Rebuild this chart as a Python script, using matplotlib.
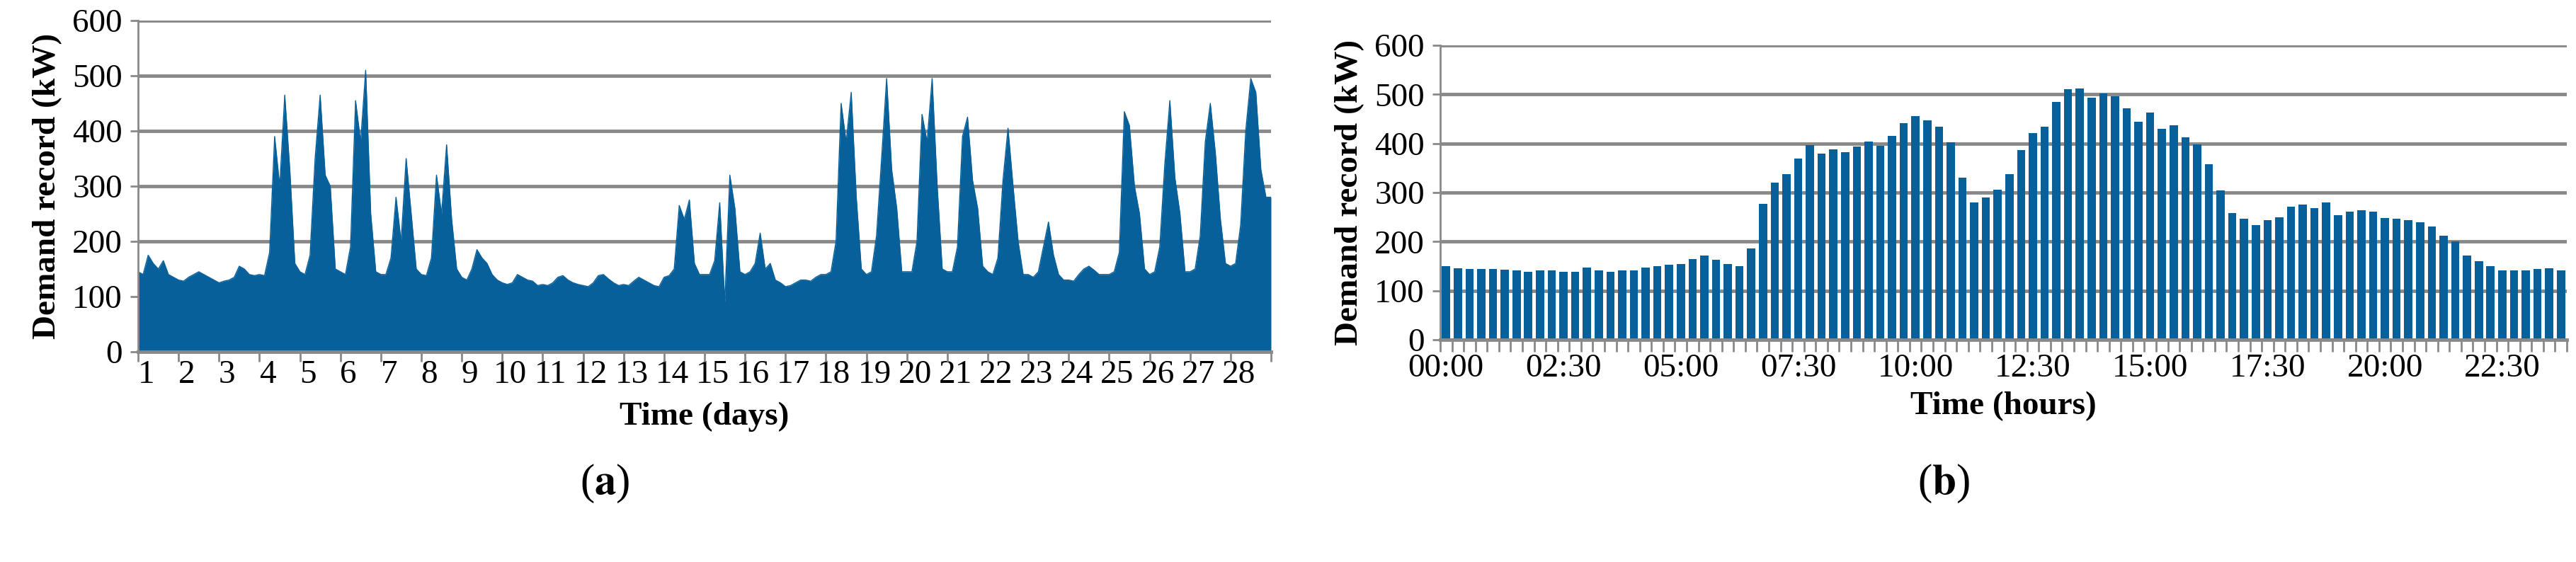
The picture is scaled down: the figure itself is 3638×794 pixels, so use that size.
import matplotlib
matplotlib.use("Agg")
import matplotlib.pyplot as plt
import numpy as np

plt.rcParams['font.family'] = ['Liberation Serif', 'DejaVu Serif']
plt.rcParams['mathtext.fontset'] = 'stix'

# Panel (a): 28 days, 8 readings per day (every 3 h)
days = list(range(1, 29))
day_profiles = [
    [145, 140, 175, 160, 150, 165, 140, 135],
    [130, 128, 135, 140, 145, 140, 135, 130],
    [125, 128, 130, 135, 155, 150, 140, 138],
    [140, 138, 180, 390, 300, 465, 330, 160],
    [145, 140, 175, 350, 465, 320, 300, 150],
    [145, 140, 190, 455, 380, 510, 250, 145],
    [140, 140, 170, 280, 200, 350, 250, 150],
    [140, 138, 170, 320, 250, 375, 240, 150],
    [135, 130, 150, 185, 170, 160, 140, 130],
    [125, 122, 125, 140, 135, 130, 128, 120],
    [122, 120, 125, 135, 138, 130, 125, 122],
    [120, 118, 125, 138, 140, 132, 125, 120],
    [122, 120, 128, 135, 130, 125, 120, 118],
    [135, 138, 150, 265, 240, 275, 160, 140],
    [140, 140, 165, 270, 90, 320, 260, 145],
    [140, 145, 160, 215, 150, 160, 130, 125],
    [118, 120, 125, 130, 130, 128, 135, 140],
    [140, 145, 200, 450, 380, 470, 280, 150],
    [140, 145, 210, 350, 495, 330, 260, 145],
    [145, 145, 200, 430, 380, 495, 300, 150],
    [145, 145, 190, 390, 425, 310, 260, 155],
    [145, 140, 170, 310, 405, 300, 200, 140],
    [140, 135, 145, 190, 235, 175, 140, 130],
    [130, 128, 140, 150, 155, 148, 140, 140],
    [140, 145, 180, 435, 410, 300, 250, 150],
    [140, 145, 190, 340, 455, 315, 250, 145],
    [145, 150, 210, 380, 450, 360, 240, 160],
    [155, 160, 230, 400, 495, 470, 330, 280],
]

# Panel (b): 96 quarter-hour readings of one day
hour_labels = ['00:00', '02:30', '05:00', '07:30', '10:00', '12:30', '15:00', '17:30', '20:00', '22:30']
demand_b = [150, 146, 144, 144, 144, 143, 141, 139, 141, 141, 139, 139, 147, 141, 138, 141,
            141, 147, 150, 153, 154, 164, 172, 163, 154, 150, 186, 277, 320, 338, 369, 397,
            379, 388, 382, 394, 404, 395, 415, 441, 456, 447, 434, 402, 330, 280, 290, 306,
            338, 387, 421, 434, 485, 511, 512, 493, 502, 496, 472, 444, 463, 430, 437, 413,
            398, 358, 304, 258, 247, 234, 244, 250, 271, 275, 268, 280, 254, 261, 264, 261,
            248, 247, 244, 239, 231, 212, 200, 172, 160, 150, 141, 141, 141, 144, 146, 141]

BLUE = '#08609a'
GRID = '#898989'
W, H = 3638, 794
fig = plt.figure(figsize=(W / 100, H / 100), dpi=100)

def style(ax):
    ax.set_ylim(0, 600)
    ax.set_yticks(range(0, 601, 100))
    ax.yaxis.grid(True, color=GRID, linewidth=3.5)
    ax.set_axisbelow(True)
    for s in ['top', 'right']:
        ax.spines[s].set_visible(False)
    ax.spines['left'].set_color(GRID)
    ax.spines['left'].set_linewidth(2)
    ax.spines['bottom'].set_color(GRID)
    ax.spines['bottom'].set_linewidth(3.5)
    ax.tick_params(axis='y', length=8, width=2, color=GRID, labelsize=34, pad=8)
    ax.tick_params(axis='x', labelsize=34, width=2, color=GRID)
    ax.set_ylabel('Demand record (kW)', fontsize=34, fontweight='bold', labelpad=10)

# (a)
axa = fig.add_axes([195 / W, 1 - 497 / H, (1795 - 195) / W, (497 - 29) / H])
prof = np.array(day_profiles, dtype=float)
n = prof.shape[1]
t = np.array([d + k / n for d in range(len(days)) for k in range(n)] + [len(days)])
v = np.append(prof.ravel(), prof[-1, -1])
axa.fill_between(t, 0, v, color=BLUE, linewidth=0)
axa.plot(t, v, color=BLUE, linewidth=1)
axa.set_xlim(0, len(days))
style(axa)
axa.set_xticks(np.arange(len(days)) + 0.2)
axa.set_xticklabels([str(d) for d in days])
axa.tick_params(axis='x', length=0, pad=8)
axa.set_xticks(np.arange(len(days) + 1), minor=True)
axa.tick_params(axis='x', which='minor', length=10, width=2, color=GRID)
axa.set_xlabel('Time (days)', fontsize=34, fontweight='bold', labelpad=12)

# (b)
axb = fig.add_axes([2034 / W, 1 - 480 / H, (3625 - 2034) / W, (480 - 64) / H])
x = np.arange(len(demand_b))
axb.bar(x, demand_b, width=0.7, color=BLUE)
axb.set_xlim(-0.5, len(demand_b) - 0.5)
style(axb)
axb.set_xticks(np.arange(0, len(demand_b), 10))
axb.set_xticklabels(hour_labels)
axb.tick_params(axis='x', length=0, pad=14)
axb.set_xticks(np.arange(len(demand_b) + 1) - 0.5, minor=True)
axb.tick_params(axis='x', which='minor', length=12, width=2, color=GRID)
axb.set_xlabel('Time (hours)', fontsize=34, fontweight='bold', labelpad=8)

fig.text(854 / W, 1 - 683 / H, r'($\mathbf{a}$)', fontsize=44, ha='center', va='center')
fig.text(2745 / W, 1 - 683 / H, r'($\mathbf{b}$)', fontsize=44, ha='center', va='center')

fig.savefig('out.png', dpi=100)
